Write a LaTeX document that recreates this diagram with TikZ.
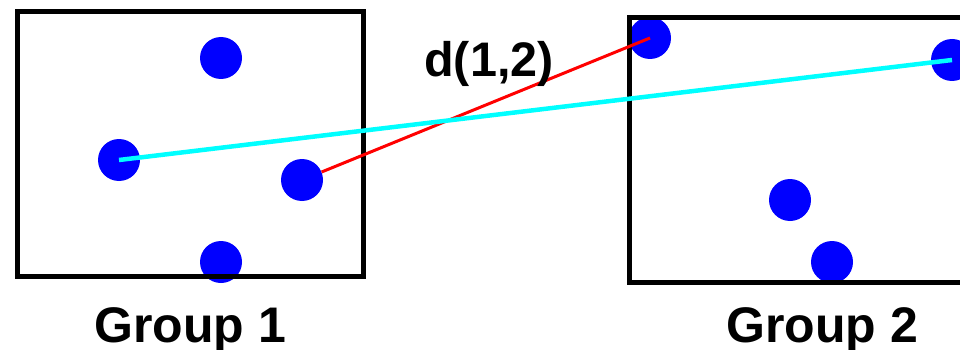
\documentclass[tikz,border=0pt]{standalone}
\usepackage{fontspec}
\setmainfont{Liberation Sans}
\begin{document}
\begin{tikzpicture}[x=1pt,y=-1pt,
  dot/.style={circle,fill={rgb,255:red,0;green,0;blue,255},minimum size=42pt,inner sep=0pt},
  groupbox/.style={draw=black,line width=5pt},
  lbl/.style={font=\bfseries\fontsize{#1}{56}\selectfont,anchor=base,inner sep=0pt},
  redline/.style={draw={rgb,255:red,255;green,0;blue,0},line width=3pt},
  cyanline/.style={draw={rgb,255:red,0;green,255;blue,255},line width=4.5pt}]
\useasboundingbox (0,0) rectangle (960,350);
\clip (0,0) rectangle (960,350);
\fill[white] (0,0) rectangle (960,350);
% group 1 dots
\node[dot] (a1) at (221,58) {};
\node[dot] (a2) at (119,160) {};
\node[dot] (a3) at (302,180) {};
\node[dot] (a4) at (221,262) {};
% group 2 dots
\node[dot] (b1) at (650,38) {};
\node[dot] (b2) at (952,60) {};
\node[dot] (b3) at (790,200) {};
\node[dot] (b4) at (832,262) {};
% boxes
\node[groupbox,minimum width=346pt,minimum height=264pt,inner sep=0pt] (g1) at (190,144) {};
\node[groupbox,minimum width=400pt,minimum height=264pt,inner sep=0pt] (g2) at (829,150) {};
% connectors
\draw[redline] (a3) -- (b1.center);
\draw[cyanline] (a2.center) -- (b2.center);
% labels
\node[lbl=48.5] (d12) at (489,77) {d(1,2)};
\node[lbl=50] (l1) at (190,342) {Group 1};
\node[lbl=50] (l2) at (822,342) {Group 2};
\end{tikzpicture}
\end{document}
